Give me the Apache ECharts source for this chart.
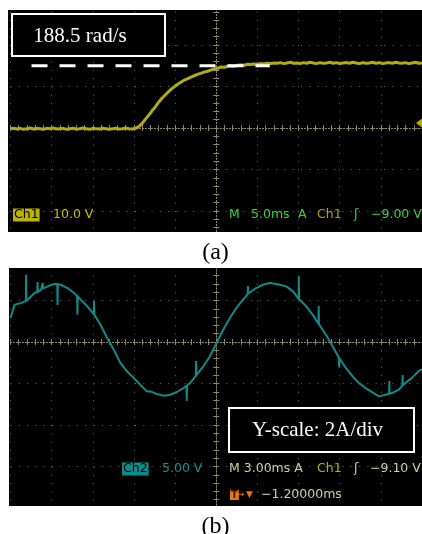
<!DOCTYPE html>
<html>
<head>
<meta charset="utf-8">
<script src="https://cdn.jsdelivr.net/npm/echarts@6/dist/echarts.min.js"></script>
<style>
  html, body { margin: 0; padding: 0; background: #fff; }
  #scope { width: 422px; height: 534px; }
</style>
</head>
<body>
<div id="scope"></div>
<script>
// two oscilloscope captures: (a) speed step, (b) phase current
var myChart = echarts.init(document.getElementById('scope'));

// ---- data read off the captures ----
// (a) speed [time ms relative to trigger, rad/s], 5 ms/div
var speedTrace = [
  [-25.0,-2],[-24.6,-1],[-24.2,-3],[-23.8,-1],[-23.4,-4],[-23.0,-2],[-22.6,0],[-22.2,-3],
  [-21.8,-1],[-21.4,-2],[-21.0,-4],[-20.6,-1],[-20.2,-2],[-19.8,0],[-19.4,-3],[-19.0,-2],
  [-18.6,-1],[-18.2,-4],[-17.8,-2],[-17.4,-1],[-17.0,-3],[-16.6,-2],[-16.2,0],[-15.8,-2],
  [-15.4,-4],[-15.0,-1],[-14.6,-2],[-14.2,-3],[-13.8,-1],[-13.4,-2],[-13.0,-4],[-12.6,-2],
  [-12.2,-1],[-11.8,-3],[-11.4,-2],[-11.0,0],[-10.6,-2],[-10.2,-3],[-9.8,-1],
  [-9.4,4],[-9.0,14],[-8.6,27],[-8.2,39],[-7.8,52],[-7.4,64],[-7.0,78],[-6.6,90],
  [-6.2,100],[-5.8,110],[-5.4,119],[-5.0,127],[-4.6,134],[-4.2,140],[-3.8,146],[-3.4,150],
  [-3.0,155],[-2.6,159],[-2.2,163],[-1.8,166],[-1.4,170],[-1.0,172],[-0.6,176],[-0.2,179],
  [0.2,181],[0.6,185],[1.0,184],[1.4,187],[1.8,188],[2.2,187],[2.6,190],[3.0,191],
  [3.4,190],[3.8,193],[4.2,192],[4.6,194],[5.0,193],[5.4,195],[5.8,194],[6.2,196],
  [6.6,195],[7.0,197],[7.4,196],[7.8,198],[8.2,195],[8.6,197],[9.0,199],[9.4,196],
  [9.8,197],[10.2,195],[10.6,198],[11.0,196],[11.4,199],[11.8,197],[12.2,195],[12.6,198],
  [13.0,196],[13.4,197],[13.8,199],[14.2,196],[14.6,198],[15.0,195],[15.4,197],[15.8,198],
  [16.2,196],[16.6,199],[17.0,197],[17.4,195],[17.8,198],[18.2,196],[18.6,197],[19.0,199],
  [19.4,196],[19.8,198],[20.2,195],[20.6,197],[21.0,198],[21.4,196],[21.8,199],[22.2,197],
  [22.6,196],[23.0,198],[23.4,195],[23.8,197],[24.2,199],[24.6,196],[25.0,197]
];
var refSpeed = 188.5;             // dashed target line, rad/s
var refLineTime = [-22.45, 6.5];  // ms, where the dashed line runs

// (b) phase current [time ms relative to centre, A], 3 ms/div, 2 A/div
var currentTrace = [
  [-15.00,1.16],[-14.70,1.80],[-14.22,1.88],[-13.88,1.98],[-13.86,3.24],[-13.84,1.98],
  [-13.73,2.04],[-13.25,2.36],[-13.05,2.42],[-13.03,2.89],[-13.01,2.42],[-12.77,2.52],
  [-12.67,2.56],[-12.65,2.84],[-12.63,2.57],[-12.29,2.68],[-11.80,2.80],[-11.59,2.80],
  [-11.57,1.78],[-11.55,2.79],[-11.33,2.76],[-10.84,2.60],[-10.36,2.36],[-10.14,2.22],
  [-10.12,1.32],[-10.10,2.20],[-9.88,2.04],[-9.40,1.72],[-8.93,1.34],[-8.91,1.98],
  [-8.89,1.32],[-8.44,0.83],[-7.95,0.19],[-7.47,-0.37],[-6.99,-1.01],[-6.51,-1.41],
  [-6.02,-1.73],[-5.54,-2.06],[-5.06,-2.38],[-4.79,-2.38],[-4.32,-2.51],[-3.83,-2.59],
  [-3.35,-2.54],[-2.87,-2.41],[-2.39,-2.22],[-2.17,-2.11],[-2.15,-2.84],[-2.13,-2.10],
  [-1.90,-1.98],[-1.49,-1.63],[-1.47,-0.92],[-1.45,-1.60],[-0.94,-1.17],[-0.46,-0.69],
  [0.02,-0.05],[0.51,0.59],[0.99,1.16],[1.47,1.64],[1.95,2.04],[2.29,2.31],[2.31,2.70],
  [2.33,2.33],[2.44,2.36],[2.91,2.60],[3.40,2.76],[3.88,2.84],[4.36,2.80],[4.63,2.76],
  [5.11,2.68],[5.59,2.44],[6.00,2.08],[6.02,3.17],[6.04,2.06],[6.07,2.04],[6.56,1.72],
  [7.03,1.32],[7.45,0.88],[7.47,1.73],[7.49,0.85],[7.52,0.83],[8.00,0.35],[8.48,-0.21],
  [8.94,-0.75],[8.96,-1.20],[8.98,-0.78],[9.45,-1.25],[9.93,-1.65],[10.41,-1.98],
  [10.89,-2.22],[11.37,-2.42],[11.86,-2.62],[12.34,-2.54],[12.60,-2.50],[12.62,-1.88],
  [12.64,-2.49],[12.82,-2.46],[13.30,-2.30],[13.57,-2.10],[13.59,-1.59],[13.61,-2.08],
  [13.79,-1.98],[14.26,-1.73],[14.75,-1.41],[15.00,-1.30]
];

// ---- scope scales ----
var DIV = 41.5;                   // px per division
var SPEED_DIV = refSpeed / 1.5;   // rad/s per division (target sits 1.5 div up)
var TIME_DIV_A = 5, TIME_DIV_B = 3, AMP_DIV = 2;

var DOT = '#6c6c52';
var TICK = '#8c8c6c';
var SCOPE_FONT = 'DejaVu Sans';

function scopeAxis(gridIndex, min, max, step, position, grid) {
  return {
    gridIndex: gridIndex,
    type: 'value',
    min: min, max: max, interval: step,
    position: position,
    axisLine: { show: true, onZero: true, lineStyle: { color: TICK, width: 1, type: [1, 2] } },
    axisTick: { show: true, inside: true, length: 3, lineStyle: { color: TICK } },
    minorTick: { show: true, splitNumber: 5, length: 3, lineStyle: { color: TICK } },
    axisLabel: { show: false },
    splitLine: { show: grid, lineStyle: { color: DOT, width: 1, type: [1, DIV / 5 - 1] } },
    minorSplitLine: { show: false },
    z: 1
  };
}

function txt(text, x, y, color, extra) {
  var st = { text: text, x: x, y: y, fill: color, fontFamily: SCOPE_FONT, fontSize: 12.5,
             align: 'left', verticalAlign: 'middle' };
  for (var k in extra) st[k] = extra[k];
  return { type: 'text', z: 110, silent: true, style: st };
}

var option = {
  backgroundColor: '#fff',
  animation: false,
  grid: [
    { left: 10.5, top: 128 - 3 * DIV, width: 10 * DIV, height: 6 * DIV },
    { left: 10.5, top: 342 - 2 * DIV, width: 10 * DIV, height: 6 * DIV }
  ],
  xAxis: [
    scopeAxis(0, -5 * TIME_DIV_A, 5 * TIME_DIV_A, TIME_DIV_A, 'bottom', true),
    scopeAxis(0, -5 * TIME_DIV_A, 5 * TIME_DIV_A, TIME_DIV_A, 'top', false),
    scopeAxis(1, -5 * TIME_DIV_B, 5 * TIME_DIV_B, TIME_DIV_B, 'bottom', true),
    scopeAxis(1, -5 * TIME_DIV_B, 5 * TIME_DIV_B, TIME_DIV_B, 'top', false)
  ],
  yAxis: [
    scopeAxis(0, -3 * SPEED_DIV, 3 * SPEED_DIV, SPEED_DIV, 'left', true),
    scopeAxis(0, -3 * SPEED_DIV, 3 * SPEED_DIV, SPEED_DIV, 'right', false),
    scopeAxis(1, -4 * AMP_DIV, 2 * AMP_DIV, AMP_DIV, 'left', true),
    scopeAxis(1, -4 * AMP_DIV, 2 * AMP_DIV, AMP_DIV, 'right', false)
  ],
  series: [
    {
      name: 'speed', type: 'line', xAxisIndex: 0, yAxisIndex: 0,
      data: speedTrace, symbol: 'none',
      lineStyle: { color: '#b0ac14', width: 3 }, z: 3
    },
    {
      name: 'target', type: 'line', xAxisIndex: 0, yAxisIndex: 0,
      data: [[refLineTime[0], refSpeed], [refLineTime[1], refSpeed]],
      symbol: 'none',
      lineStyle: { color: '#ffffff', width: 3.2, type: [16, 12] }, z: 4
    },
    {
      name: 'current', type: 'line', xAxisIndex: 2, yAxisIndex: 2,
      data: currentTrace, symbol: 'none',
      lineStyle: { color: '#138a8a', width: 2 }, z: 3
    }
  ],
  graphic: [
    // screen backgrounds
    { type: 'rect', z: -10, silent: true, shape: { x: 8, y: 10, width: 414, height: 222 }, style: { fill: '#000' } },
    { type: 'rect', z: -10, silent: true, shape: { x: 9, y: 268, width: 413, height: 238 }, style: { fill: '#000' } },
    // crop the graticule outside the screens
    { type: 'rect', z: 100, silent: true, shape: { x: 0, y: 0, width: 422, height: 10 }, style: { fill: '#fff' } },
    { type: 'rect', z: 100, silent: true, shape: { x: 0, y: 232, width: 422, height: 36 }, style: { fill: '#fff' } },
    { type: 'rect', z: 100, silent: true, shape: { x: 0, y: 506, width: 422, height: 28 }, style: { fill: '#fff' } },

    // (a) annotation box
    { type: 'rect', z: 105, silent: true, shape: { x: 12, y: 14, width: 153, height: 42 },
      style: { fill: '#000', stroke: '#fff', lineWidth: 2 } },
    { type: 'text', z: 110, silent: true,
      style: { text: '188.5 rad/s', x: 80, y: 36, fill: '#fff', fontFamily: 'Liberation Serif',
               fontSize: 21, align: 'center', verticalAlign: 'middle' } },
    // trigger level marker
    { type: 'polygon', z: 110, silent: true, shape: { points: [[416, 123], [422, 118.5], [422, 127.5]] },
      style: { fill: '#b4b000' } },
    // (a) readouts
    txt('Ch1', 13, 215, '#000', { backgroundColor: '#b8b400', padding: [0, 1, 0, 1], lineHeight: 13 }),
    txt('10.0 V', 53, 215, '#c4c000'),
    txt('M', 229, 215, '#3ed23e'),
    txt('5.0ms', 251, 215, '#3ed23e'),
    txt('A', 298, 215, '#3ed23e'),
    txt('Ch1', 317, 215, '#a8a400'),
    txt('ʃ', 354, 215, '#3ed23e'),
    txt('\u22129.00 V', 371, 215, '#3ed23e'),
    { type: 'text', z: 110, silent: true,
      style: { text: '(a)', x: 215.5, y: 253, fill: '#000', fontFamily: 'Liberation Serif',
               fontSize: 24, align: 'center', verticalAlign: 'middle' } },

    // (b) annotation box
    { type: 'rect', z: 105, silent: true, shape: { x: 229, y: 408, width: 185, height: 44 },
      style: { fill: '#000', stroke: '#fff', lineWidth: 2 } },
    { type: 'text', z: 110, silent: true,
      style: { text: 'Y-scale: 2A/div', x: 317.5, y: 430.5, fill: '#fff', fontFamily: 'Liberation Serif',
               fontSize: 21, align: 'center', verticalAlign: 'middle' } },
    // (b) readouts
    txt('Ch2', 122, 469, '#000', { backgroundColor: '#0e8c8c', padding: [0, 1, 0, 1], lineHeight: 13 }),
    txt('5.00 V', 162, 469, '#119494'),
    txt('M 3.00ms A', 229, 469, '#d0d0a4'),
    txt('Ch1', 317, 469, '#b8b400'),
    txt('ʃ', 354, 469, '#d0d0a4'),
    txt('\u22129.10 V', 370, 469, '#d0d0a4'),
    txt('T', 230, 495, '#3a1a00', { backgroundColor: '#e8780e', fontSize: 10, padding: [0, 1, 0, 1], lineHeight: 10, fontWeight: 'bold' }),
    txt('\u2192', 237, 495, '#e8780e', { fontSize: 9 }),
    txt('\u25BC', 246, 495, '#e8780e', { fontSize: 9 }),
    txt('\u22121.20000ms', 261, 495, '#d0d0a4'),
    { type: 'text', z: 110, silent: true,
      style: { text: '(b)', x: 215.5, y: 527, fill: '#000', fontFamily: 'Liberation Serif',
               fontSize: 24, align: 'center', verticalAlign: 'middle' } }
  ]
};

myChart.setOption(option);
</script>
</body>
</html>
